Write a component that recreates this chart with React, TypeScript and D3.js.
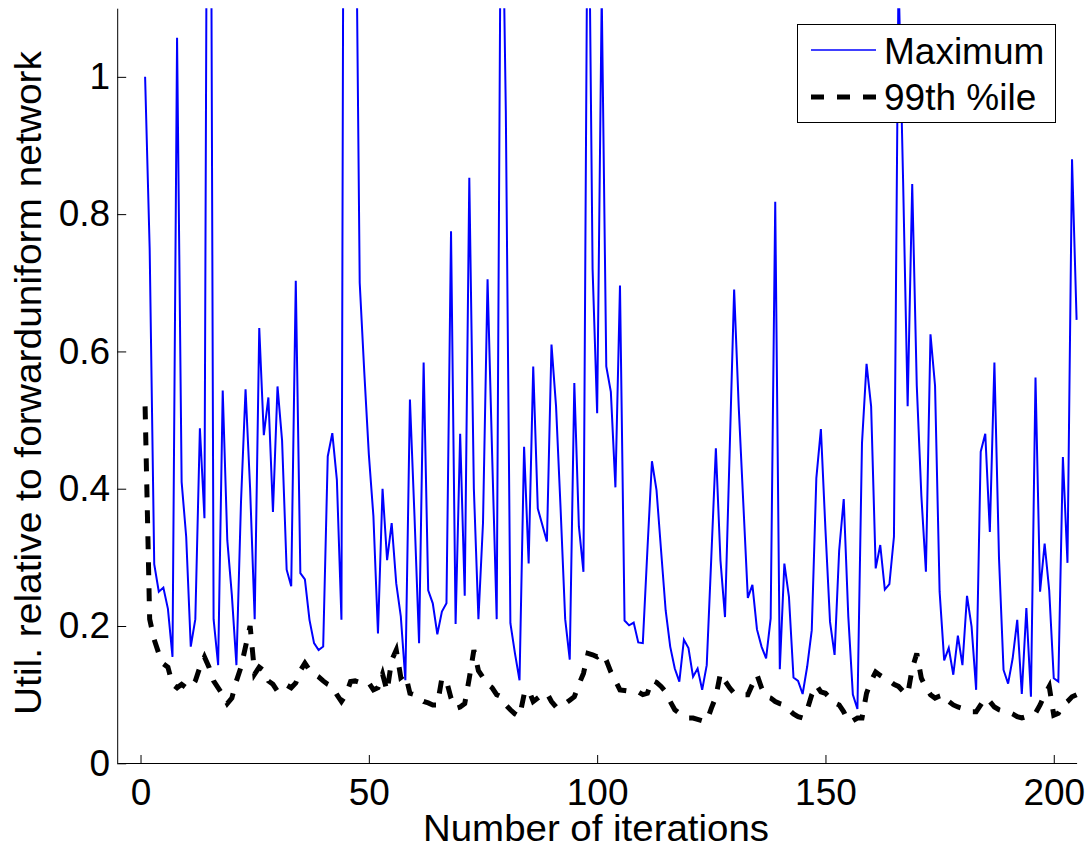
import { useEffect, useRef } from "react";
import * as d3 from "d3";

// iteration index 1..205
const maximum = [
  1.0, 0.75, 0.29, 0.25, 0.256, 0.225, 0.155, 1.057, 0.41, 0.33,
  0.17, 0.21, 0.488, 0.357, 2.15, 0.21, 0.143, 0.543, 0.325, 0.245,
  0.143, 0.38, 0.545, 0.4, 0.21, 0.634, 0.478, 0.533, 0.366, 0.549,
  0.47, 0.282, 0.258, 0.703, 0.277, 0.268, 0.209, 0.175, 0.165, 0.17,
  0.447, 0.481, 0.413, 0.209, 2.7, 2.0, 1.4, 0.7, 0.57, 0.45,
  0.36, 0.189, 0.4, 0.296, 0.35, 0.262, 0.214, 0.121, 0.53, 0.36,
  0.175, 0.584, 0.252, 0.233, 0.188, 0.221, 0.233, 0.775, 0.203, 0.48,
  0.244, 0.853, 0.4, 0.21, 0.35, 0.705, 0.45, 0.21, 1.4, 0.95,
  0.204, 0.16, 0.121, 0.461, 0.291, 0.578, 0.371, 0.347, 0.323, 0.61,
  0.52, 0.37, 0.21, 0.151, 0.554, 0.345, 0.279, 1.4, 0.72, 0.51,
  1.12, 0.578, 0.541, 0.402, 0.696, 0.208, 0.201, 0.205, 0.176, 0.175,
  0.31, 0.44, 0.398, 0.31, 0.223, 0.17, 0.138, 0.119, 0.18, 0.168,
  0.126, 0.138, 0.107, 0.143, 0.3, 0.459, 0.296, 0.213, 0.45, 0.69,
  0.52, 0.38, 0.241, 0.26, 0.195, 0.17, 0.153, 0.211, 0.818, 0.137,
  0.291, 0.243, 0.125, 0.12, 0.101, 0.141, 0.194, 0.415, 0.487, 0.34,
  0.206, 0.158, 0.31, 0.385, 0.214, 0.1, 0.079, 0.466, 0.582, 0.52,
  0.284, 0.318, 0.253, 0.261, 0.33, 1.15, 0.85, 0.52, 0.844, 0.55,
  0.39, 0.279, 0.625, 0.55, 0.25, 0.15, 0.168, 0.129, 0.186, 0.143,
  0.244, 0.199, 0.107, 0.454, 0.48, 0.337, 0.584, 0.3, 0.136, 0.116,
  0.153, 0.209, 0.101, 0.226, 0.097, 0.562, 0.25, 0.32, 0.252, 0.124,
  0.119, 0.446, 0.292, 0.88, 0.646,
];

const pct99 = [
  0.52, 0.21, 0.18, 0.16, 0.145, 0.14, 0.115, 0.11, 0.115, 0.11,
  0.11, 0.12, 0.14, 0.155, 0.14, 0.12, 0.11, 0.1, 0.087, 0.095,
  0.12, 0.14, 0.17, 0.2, 0.13, 0.14, 0.135, 0.12, 0.115, 0.105,
  0.11, 0.114, 0.11, 0.117, 0.135, 0.146, 0.136, 0.13, 0.126, 0.12,
  0.115, 0.112, 0.1, 0.09, 0.1, 0.119, 0.12, 0.118, 0.115, 0.117,
  0.107, 0.11, 0.13, 0.105, 0.15, 0.165, 0.125, 0.13, 0.102, 0.1,
  0.095, 0.09, 0.088, 0.085, 0.085, 0.124, 0.12, 0.095, 0.08, 0.082,
  0.087, 0.124, 0.165, 0.135, 0.125, 0.115, 0.11, 0.1, 0.097, 0.085,
  0.078, 0.072, 0.068, 0.1, 0.107, 0.09, 0.095, 0.1, 0.102, 0.09,
  0.082, 0.087, 0.087, 0.092, 0.097, 0.115, 0.131, 0.16, 0.158, 0.155,
  0.16, 0.15, 0.133, 0.12, 0.107, 0.106, 0.105, 0.104, 0.104, 0.1,
  0.102, 0.121, 0.118, 0.112, 0.104, 0.09, 0.078, 0.073, 0.07, 0.066,
  0.066, 0.064, 0.062, 0.061, 0.08, 0.097, 0.131, 0.12, 0.11, 0.102,
  0.1, 0.1, 0.1, 0.115, 0.129, 0.11, 0.097, 0.095, 0.09, 0.087,
  0.085, 0.078, 0.072, 0.068, 0.066, 0.078, 0.1, 0.114, 0.104, 0.102,
  0.095, 0.088, 0.085, 0.075, 0.061, 0.062, 0.066, 0.066, 0.102, 0.12,
  0.133, 0.128, 0.124, 0.12, 0.115, 0.112, 0.105, 0.1, 0.138, 0.16,
  0.124, 0.11, 0.1, 0.095, 0.098, 0.1, 0.09, 0.085, 0.082, 0.08,
  0.078, 0.075, 0.075, 0.085, 0.095, 0.09, 0.082, 0.078, 0.076, 0.075,
  0.072, 0.068, 0.066, 0.068, 0.07, 0.073, 0.085, 0.1, 0.112, 0.07,
  0.073, 0.085, 0.09, 0.097, 0.1,
];

const xTicks = [0, 50, 100, 150, 200];
const yTicks = [0, 0.2, 0.4, 0.6, 0.8, 1];
const seriesNames = ["Maximum", "99th %ile"];

const App = () => {
  const ref = useRef<SVGSVGElement>(null);

  useEffect(() => {
    const w = 1090;
    const h = 849;
    const font = "'Liberation Sans', Arial, Helvetica, sans-serif";
    const svg = d3.select(ref.current).attr("width", w).attr("height", h);
    svg.selectAll("*").remove();

    const x = d3.scaleLinear().domain([-5, 205]).range([117.7, 1076.6]);
    const y = d3.scaleLinear().domain([0, 1.1]).range([763.3, 8.2]);

    svg
      .append("clipPath")
      .attr("id", "plotclip")
      .append("rect")
      .attr("x", 117.7)
      .attr("y", 8.2)
      .attr("width", 1076.6 - 117.7 + 4)
      .attr("height", 763.3 - 8.2);

    const line = d3
      .line<number>()
      .x((_, i) => x(i + 1))
      .y((d) => y(d));

    const plot = svg.append("g").attr("clip-path", "url(#plotclip)");

    plot
      .append("path")
      .attr("d", line(maximum))
      .attr("fill", "none")
      .attr("stroke", "#0000ff")
      .attr("stroke-width", 2)
      .attr("stroke-linejoin", "miter");

    plot
      .append("path")
      .attr("d", line(pct99))
      .attr("fill", "none")
      .attr("stroke", "#000")
      .attr("stroke-width", 5)
      .attr("stroke-dasharray", "13,13");

    // axes, ticks pointing inward like matlab
    const xAxis = d3
      .axisBottom(x)
      .tickValues(xTicks)
      .tickSizeInner(-8)
      .tickSizeOuter(0)
      .tickPadding(16)
      .tickFormat(d3.format("d"));
    const gx = svg.append("g").attr("transform", "translate(0,763)").call(xAxis);

    const yAxis = d3
      .axisLeft(y)
      .tickValues(yTicks)
      .tickSizeInner(-9)
      .tickSizeOuter(0)
      .tickPadding(7)
      .tickFormat((d) => String(d));
    const gy = svg.append("g").attr("transform", "translate(117.2,0)").call(yAxis);

    [gx, gy].forEach((g) => {
      g.select(".domain").attr("stroke", "#000");
      g.selectAll(".tick line").attr("stroke", "#000");
      g.selectAll(".tick text")
        .attr("fill", "#000")
        .style("font-family", font)
        .style("font-size", "37px");
    });

    svg
      .append("text")
      .attr("x", 596)
      .attr("y", 841)
      .attr("text-anchor", "middle")
      .attr("textLength", 346)
      .attr("lengthAdjust", "spacingAndGlyphs")
      .style("font-family", font)
      .style("font-size", "36px")
      .text("Number of iterations");

    svg
      .append("text")
      .attr("transform", "translate(41,383) rotate(-90)")
      .attr("text-anchor", "middle")
      .attr("textLength", 664)
      .attr("lengthAdjust", "spacingAndGlyphs")
      .style("font-family", font)
      .style("font-size", "37px")
      .text("Util. relative to forwarduniform network");

    // legend
    const lg = svg.append("g");
    lg.append("rect")
      .attr("x", 797.5)
      .attr("y", 24.5)
      .attr("width", 258)
      .attr("height", 98)
      .attr("fill", "#fff")
      .attr("stroke", "#000")
      .attr("stroke-width", 1);

    const rows = [
      { name: seriesNames[0], color: "#0000ff", width: 1.5, dash: null, yy: 50, ty: 63.5 },
      { name: seriesNames[1], color: "#000", width: 5, dash: "13,13", yy: 97, ty: 110 },
    ];
    rows.forEach((r) => {
      lg.append("line")
        .attr("x1", 811)
        .attr("x2", 876)
        .attr("y1", r.yy)
        .attr("y2", r.yy)
        .attr("stroke", r.color)
        .attr("stroke-width", r.width)
        .attr("stroke-dasharray", r.dash);
      lg.append("text")
        .attr("x", 884)
        .attr("y", r.ty)
        .style("font-family", font)
        .style("font-size", "37px")
        .text(r.name);
    });
  }, []);

  return (
    <div style={{ position: "absolute", left: 0, top: 0 }}>
      <svg ref={ref} style={{ display: "block", background: "#fff" }}></svg>
    </div>
  );
};

export default App;
